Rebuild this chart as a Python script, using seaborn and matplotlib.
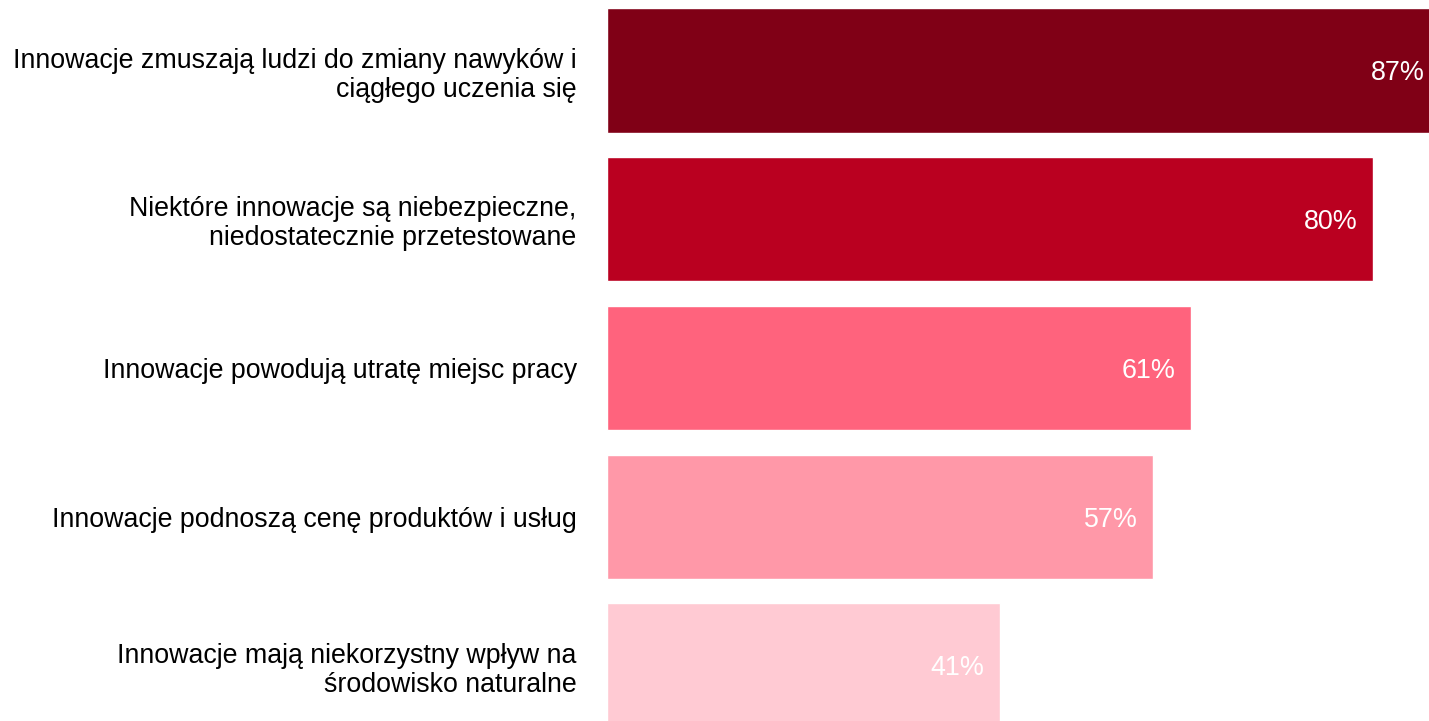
import matplotlib
matplotlib.use("Agg")
import matplotlib.pyplot as plt
import seaborn as sns
import pandas as pd

categories = [
    "Innowacje zmuszają ludzi do zmiany nawyków i\nciągłego uczenia się",
    "Niektóre innowacje są niebezpieczne,\nniedostatecznie przetestowane",
    "Innowacje powodują utratę miejsc pracy",
    "Innowacje podnoszą cenę produktów i usług",
    "Innowacje mają niekorzystny wpływ na\nśrodowisko naturalne",
]
values = [87, 80, 61, 57, 41]
bar_colors = ["#800016", "#BA0020", "#FF637D", "#FF98A8", "#FFCAD3"]

sns.set_theme(style="white")
plt.rcParams["font.family"] = ["Liberation Sans", "DejaVu Sans"]

df = pd.DataFrame({"kategoria": categories, "procent": values})

fig = plt.figure(figsize=(14.29, 7.21), dpi=100)
ax = fig.add_axes([606.5 / 1429, 0, 1 - 606.5 / 1429, 1])

sns.barplot(data=df, y="kategoria", x="procent", hue="kategoria",
            palette=bar_colors, orient="h", width=0.835, saturation=1,
            legend=False, ax=ax)

ax.set_xlim(0, 85.8)
ax.set_ylim(4.373, -0.474)

for i, v in enumerate(values):
    ax.annotate(f"{v}%", xy=(v, i), xytext=(-11, -2), textcoords="offset points",
                ha="right", va="center", color="white", fontsize=19.4,
                annotation_clip=False)

ax.set_xlabel("")
ax.set_ylabel("")
ax.set_xticks([])
ax.tick_params(axis="y", length=0, pad=21.5, labelsize=19.3)
for lbl in ax.get_yticklabels():
    lbl.set_linespacing(1.15)
    lbl.set_color("black")
for s in ax.spines.values():
    s.set_visible(False)

fig.savefig("out.png", dpi=100)
